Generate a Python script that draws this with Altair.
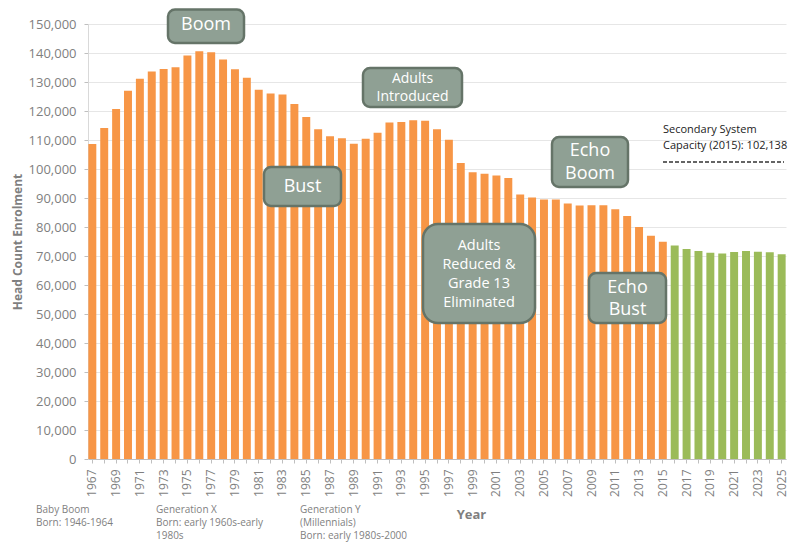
import altair as alt
import pandas as pd

years = list(range(1967, 2026))
enrolment = [
    108600, 114100, 120700, 127000, 131100, 133600, 134500, 135100, 139100, 140600,
    140300, 137800, 134400, 131500, 127300, 126000, 125700, 122400, 117900, 113700,
    111300, 110600, 108700, 110400, 112500, 116000, 116200, 116800, 116600, 113700,
    110100, 102100, 98900, 98400, 97800, 96900, 91200, 90200, 89500, 89500,
    88100, 87400, 87500, 87500, 86100, 83800, 80000, 77000, 74900, 73600,
    72400, 71700, 71100, 70900, 71400, 71700, 71500, 71300, 70600,
]
status = ["Actual" if y <= 2015 else "Projected" for y in years]
y_ticks = list(range(0, 150001, 10000))

df = pd.DataFrame({"year": years, "enrolment": enrolment, "status": status})

ORANGE = "#F79646"
GREEN = "#9BBB59"
BOX_FILL = "#8FA094"
BOX_EDGE = "#657468"
GREY = "#7f7f7f"
FONT = "Open Sans"

bars = alt.Chart(df).mark_bar().encode(
    x=alt.X(
        "year:O",
        scale=alt.Scale(paddingInner=0.33, paddingOuter=0.03),
        axis=alt.Axis(
            title="Year",
            labelAngle=270,
            labelExpr="datum.value % 2 == 1 ? datum.label : ''",
            labelOverlap=False,
            labelFontSize=12,
            labelColor=GREY,
            labelFont=FONT,
            labelPadding=6,
            tickSize=4,
            tickColor="#bfbfbf",
            domainColor="#bfbfbf",
            titleFontSize=13,
            titleFontWeight="bold",
            titleColor=GREY,
            titleFont=FONT,
            titleX=383,
            titleY=55,
            titleBaseline="middle",
            titleAlign="center",
            grid=False,
        ),
    ),
    y=alt.Y(
        "enrolment:Q",
        scale=alt.Scale(domain=[0, 150000], nice=False),
        axis=alt.Axis(
            title="Head Count Enrolment",
            values=y_ticks,
            format=",.0f",
            labelFontSize=13,
            labelColor=GREY,
            labelFont=FONT,
            labelPadding=8,
            tickSize=4,
            tickColor="#bfbfbf",
            domainColor="#d9d9d9",
            gridColor="#e6e6e6",
            titleFontSize=12,
            titleFontWeight="bold",
            titleColor=GREY,
            titleFont=FONT,
            titlePadding=4,
        ),
    ),
    color=alt.Color(
        "status:N",
        scale=alt.Scale(domain=["Actual", "Projected"], range=[ORANGE, GREEN]),
        legend=None,
    ),
)

one = alt.Data(values=[{}])


def box(x0, y0, x1, y1, r=7):
    return alt.Chart(one).mark_rect(
        fill=BOX_FILL, stroke=BOX_EDGE, strokeWidth=2.5, cornerRadius=r
    ).encode(x=alt.value(x0), x2=alt.value(x1), y=alt.value(y0), y2=alt.value(y1))


def label(x, yc, lines, size, color="white", align="center", lh=18):
    # yc is the vertical centre of the whole block of lines
    y_first = yc - (len(lines) - 1) * lh / 2
    return alt.Chart(one).mark_text(
        text=lines, fontSize=size, color=color, font=FONT, align=align,
        baseline="middle", lineHeight=lh,
    ).encode(x=alt.value(x), y=alt.value(y_first))


def note(x, y, lines, size=10, lh=13):
    return alt.Chart(one).mark_text(
        text=lines, fontSize=size, color=GREY, font=FONT, align="left",
        baseline="alphabetic", lineHeight=lh,
    ).encode(x=alt.value(x), y=alt.value(y))


layers = [bars]
layers += [
    box(80, -14.5, 156, 19), label(118, 0.5, ["Boom"], 18),
    box(275, 44, 374, 83), label(324.5, 64, ["Adults", "Introduced"], 14, lh=18),
    box(176, 143, 253, 182), label(214.5, 163, ["Bust"], 18),
    box(335, 200, 447, 299, r=15),
    label(391, 250, ["Adults", "Reduced &", "Grade 13", "Eliminated"], 14.5, lh=19),
    box(464, 113, 540, 163), label(502, 138.5, ["Echo", "Boom"], 18, lh=23),
    box(501, 249, 578, 299), label(539.5, 275, ["Echo", "Bust"], 18, lh=22),
    label(575, 114, ["Secondary System", "Capacity (2015): 102,138"], 11, color="#222222",
          align="left", lh=16),
    alt.Chart(one).mark_rule(color="#333333", strokeWidth=1.3, strokeDash=[4, 2]).encode(
        x=alt.value(575), x2=alt.value(696), y=alt.value(138)
    ),
    note(-52, 489, ["Baby Boom", "Born: 1946-1964"]),
    note(68, 489, ["Generation X", "Born: early 1960s-early", "1980s"]),
    note(212, 489, ["Generation Y", "(Millennials)", "Born: early 1980s-2000"]),
]

chart = alt.layer(*layers).properties(
    width=698,
    height=435,
    autosize=alt.AutoSizeParams(type="none"),
    padding={"left": 80, "top": 16, "right": 4, "bottom": 84},
).configure_view(stroke=None)

chart.save("out.html", embed_options={"renderer": "svg", "actions": False})
